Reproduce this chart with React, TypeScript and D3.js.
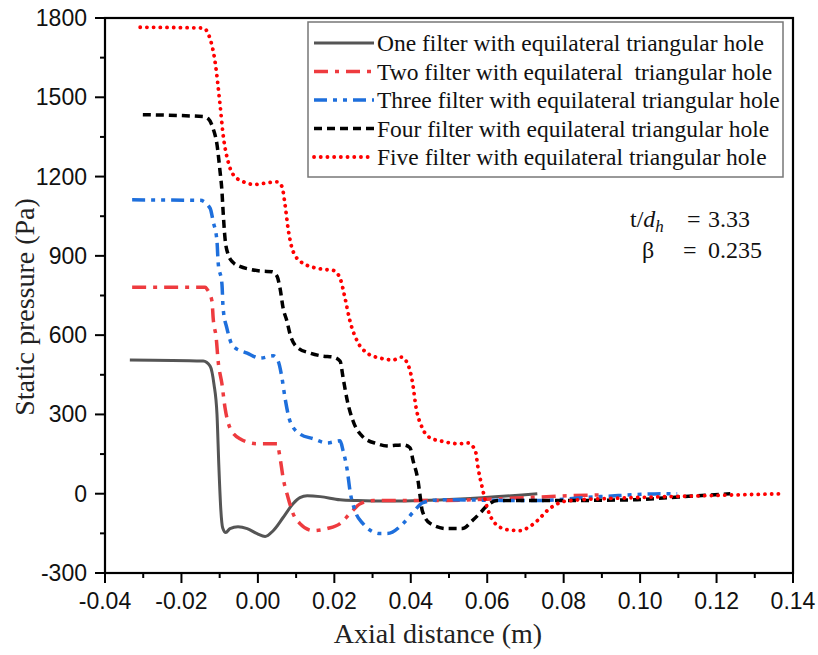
import React from "react";
import * as d3 from "d3";

const W = 818;
const H = 655;

const xTicks = [-0.04, -0.02, 0.0, 0.02, 0.04, 0.06, 0.08, 0.1, 0.12, 0.14];
const xTickLabels = ["-0.04", "-0.02", "0.00", "0.02", "0.04", "0.06", "0.08", "0.10", "0.12", "0.14"];
const yTicks = [-300, 0, 300, 600, 900, 1200, 1500, 1800];

const seriesNames = [
  "One filter with equilateral triangular hole",
  "Two filter with equilateral  triangular hole",
  "Three filter with equilateral triangular hole",
  "Four filter with equilateral triangular hole",
  "Five filter with equilateral triangular hole",
];

const oneX = [-0.0335, -0.0143, -0.0125, -0.0115, -0.0107, -0.0102, -0.0097, -0.0092, -0.0084, -0.0073, -0.0052, -0.0028, -0.0002, 0.0019, 0.004, 0.0066, 0.0092, 0.011, 0.0129, 0.0163, 0.0215, 0.026, 0.0346, 0.0529, 0.0731];
const oneY = [506, 502, 483, 415, 300, 100, -60, -130, -147, -132, -125, -132, -151, -162, -140, -90, -38, -15, -8, -11, -23, -26, -28, -20, 0];

const twoX = [-0.0329, -0.0138, -0.0133, -0.012, -0.0117, -0.0109, -0.0104, -0.0094, -0.0086, -0.0073, -0.0047, -0.0002, 0.005, 0.0058, 0.0066, 0.0079, 0.0092, 0.011, 0.0145, 0.0181, 0.0215, 0.0241, 0.0268, 0.0302, 0.0459, 0.0634, 0.0809, 0.0904];
const twoY = [781, 781, 774, 728, 664, 589, 502, 415, 325, 249, 208, 189, 189, 136, 60, -15, -75, -113, -140, -132, -113, -75, -38, -26, -26, -19, -8, -4];

const threeX = [-0.0329, -0.0151, -0.0125, -0.0117, -0.0107, -0.0104, -0.0094, -0.0091, -0.0081, -0.0065, -0.0028, 0.0006, 0.004, 0.0053, 0.0063, 0.0071, 0.0084, 0.011, 0.0145, 0.0181, 0.0215, 0.0223, 0.0234, 0.0241, 0.0254, 0.0275, 0.032, 0.0338, 0.038, 0.0406, 0.0432, 0.0477, 0.072, 0.0896, 0.1071, 0.1097];
const threeY = [1112, 1110, 1080, 1030, 955, 875, 793, 702, 626, 558, 532, 513, 522, 502, 438, 362, 275, 226, 208, 192, 200, 162, 87, 11, -64, -113, -151, -151, -113, -70, -34, -23, -26, -11, 0, 0];

const fourX = [-0.0301, -0.0143, -0.013, -0.0117, -0.0107, -0.0099, -0.0094, -0.0091, -0.0086, -0.0078, -0.0065, -0.0047, -0.002, 0.0011, 0.0037, 0.005, 0.0058, 0.0066, 0.0076, 0.0084, 0.0105, 0.0137, 0.0168, 0.0197, 0.0215, 0.0223, 0.0234, 0.0249, 0.0275, 0.0312, 0.0338, 0.038, 0.0398, 0.0406, 0.0419, 0.0425, 0.043, 0.0451, 0.0495, 0.0535, 0.0561, 0.0582, 0.06, 0.0626, 0.0757, 0.0982, 0.1071, 0.1236];
const fourY = [1434, 1427, 1419, 1381, 1321, 1219, 1144, 1068, 966, 906, 875, 860, 849, 842, 840, 823, 777, 702, 653, 604, 551, 532, 521, 517, 502, 438, 351, 275, 215, 189, 181, 185, 174, 125, 49, -15, -64, -113, -132, -132, -102, -72, -45, -26, -26, -23, -15, 0];

const fiveX = [-0.0308, -0.0143, -0.0125, -0.0112, -0.0099, -0.0091, -0.0078, -0.0065, -0.0039, -0.0007, 0.0014, 0.005, 0.0063, 0.0071, 0.0079, 0.0092, 0.0118, 0.0171, 0.0197, 0.0215, 0.0228, 0.0241, 0.026, 0.0286, 0.032, 0.0354, 0.0375, 0.0391, 0.0404, 0.0414, 0.043, 0.0451, 0.0477, 0.0529, 0.055, 0.0569, 0.0576, 0.0587, 0.06, 0.0621, 0.0652, 0.0686, 0.0707, 0.0731, 0.0757, 0.0783, 0.0817, 0.0982, 0.1158, 0.1375];
const fiveY = [1765, 1762, 1721, 1634, 1472, 1359, 1257, 1208, 1181, 1170, 1174, 1180, 1162, 1094, 1004, 917, 872, 849, 845, 815, 740, 653, 577, 532, 513, 506, 517, 494, 426, 325, 249, 211, 200, 189, 192, 162, 98, 23, -53, -113, -136, -140, -128, -102, -64, -38, -26, -15, -8, 0];

const seriesX = [oneX, twoX, threeX, fourX, fiveX];
const seriesY = [oneY, twoY, threeY, fourY, fiveY];

const styles = [
  { color: "#555555", width: 3, dash: "none", cap: "butt" },
  { color: "#ee3b3f", width: 3.5, dash: "14 7 4 7", cap: "butt" },
  { color: "#1e6fdc", width: 3.5, dash: "13 6 4 6 4 6", cap: "butt" },
  { color: "#000000", width: 3.5, dash: "8 5", cap: "butt" },
  { color: "#ff0000", width: 3.8, dash: "0.1 6.6", cap: "round" },
];

const L = 105, R = 793, T = 18, B = 573;

export default function App() {
  const x = d3.scaleLinear().domain([-0.04, 0.14]).range([L, R]);
  const y = d3.scaleLinear().domain([-300, 1800]).range([B, T]);
  const line = d3
    .line<[number, number]>()
    .x((d) => x(d[0]))
    .y((d) => y(d[1]))
    .curve(d3.curveMonotoneX);

  const xMinor = d3.range(-0.03, 0.14, 0.02);
  const yMinor = d3.range(-150, 1800, 300);

  const tickFont = "'Liberation Sans', Arial, sans-serif";
  const serif = "'Liberation Serif', 'Times New Roman', serif";

  const legendRows = [43, 71.5, 100, 128.5, 157];

  return (
    <svg width={W} height={H} style={{ position: "absolute", left: 0, top: 0, background: "#fff" }}>
      <rect x={0} y={0} width={W} height={H} fill="#fff" />
      {seriesX.map((xs, i) => {
        const pts = xs.map((v, j) => [v, seriesY[i][j]] as [number, number]);
        const s = styles[i];
        return (
          <path
            key={i}
            d={line(pts) || ""}
            fill="none"
            stroke={s.color}
            strokeWidth={s.width}
            strokeDasharray={s.dash}
            strokeLinecap={s.cap as any}
            strokeLinejoin="round"
          />
        );
      })}
      {/* frame */}
      <rect x={L} y={T} width={R - L} height={B - T} fill="none" stroke="#000" strokeWidth={2.2} />
      {/* x ticks */}
      {xTicks.map((t, i) => (
        <g key={"xt" + i}>
          <line x1={x(t)} x2={x(t)} y1={B} y2={B + 10} stroke="#000" strokeWidth={2} />
          <text x={x(t)} y={609} textAnchor="middle" fontFamily={tickFont} fontSize={23} fill="#111">
            {xTickLabels[i]}
          </text>
        </g>
      ))}
      {xMinor.map((t, i) => (
        <line key={"xm" + i} x1={x(t)} x2={x(t)} y1={B} y2={B + 5} stroke="#000" strokeWidth={2} />
      ))}
      {yTicks.map((t, i) => (
        <g key={"yt" + i}>
          <line x1={L - 10} x2={L} y1={y(t)} y2={y(t)} stroke="#000" strokeWidth={2} />
          <text x={87} y={y(t) + 8} textAnchor="end" fontFamily={tickFont} fontSize={23} fill="#111">
            {String(t)}
          </text>
        </g>
      ))}
      {yMinor.map((t, i) => (
        <line key={"ym" + i} x1={L - 5} x2={L} y1={y(t)} y2={y(t)} stroke="#000" strokeWidth={2} />
      ))}
      {/* axis titles */}
      <text x={438} y={643} textAnchor="middle" fontFamily={serif} fontSize={28} fill="#222">
        Axial distance (m)
      </text>
      <text
        transform="translate(34,307) rotate(-90)"
        textAnchor="middle"
        fontFamily={serif}
        fontSize={28}
        fill="#222"
      >
        Static pressure (Pa)
      </text>
      {/* legend */}
      <rect x={308} y={22} width={475} height={155} fill="#fff" stroke="#777" strokeWidth={1.5} />
      {seriesNames.map((name, i) => {
        const s = styles[i];
        const yy = legendRows[i];
        return (
          <g key={"lg" + i}>
            <line
              x1={314}
              x2={374}
              y1={yy}
              y2={yy}
              stroke={s.color}
              strokeWidth={s.width}
              strokeDasharray={s.dash}
              strokeLinecap={s.cap as any}
            />
            <text
              x={377}
              y={yy + 8}
              fontFamily={serif}
              fontSize={23.5}
              fill="#111"
              style={{ whiteSpace: "pre" }}
            >
              {name}
            </text>
          </g>
        );
      })}
      {/* annotation */}
      <text y={227} fontFamily={serif} fontSize={24} fill="#111">
        <tspan x={630}>t/</tspan>
        <tspan fontStyle="italic">d</tspan>
        <tspan fontStyle="italic" fontSize={17} dy={5}>h</tspan>
        <tspan x={687} dy={-5}>=</tspan>
        <tspan x={708}>3.33</tspan>
      </text>
      <text y={258} fontFamily={serif} fontSize={24} fill="#111">
        <tspan x={642}>β</tspan>
        <tspan x={683}>=</tspan>
        <tspan x={708}>0.235</tspan>
      </text>
    </svg>
  );
}
